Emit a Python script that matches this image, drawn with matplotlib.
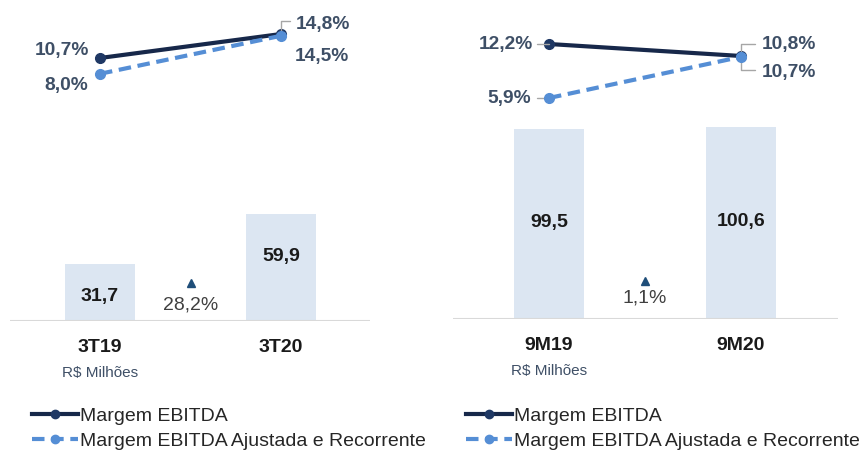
import matplotlib
matplotlib.use("Agg")
import matplotlib.pyplot as plt
from matplotlib.lines import Line2D

plt.rcParams['font.family'] = ['Liberation Sans', 'DejaVu Sans']

# dados
cats_tri = ['3T19', '3T20']
ebitda_tri = [31.7, 59.9]
margem_tri = [10.7, 14.8]
margem_aj_tri = [8.0, 14.5]
cresc_tri = 28.2

cats_9m = ['9M19', '9M20']
ebitda_9m = [99.5, 100.6]
margem_9m = [12.2, 10.8]
margem_aj_9m = [5.9, 10.7]
cresc_9m = 1.1

W, H = 866, 452
BAR = '#dce6f2'
NAVY = '#17284a'
LBLUE = '#558ed5'
TXT = '#3e4f66'
GRAY = '#a6a6a6'


def fmt(v, pct=True):
    s = f"{v:.1f}".replace('.', ',')
    return s + '%' if pct else s


def panel(fig, l, r, base, top, c0, c1, bar_px, y0, pct_px, cats, bars, m1, m2, cresc,
          lab_px, cres_px):
    ax = fig.add_axes([l / W, (H - base) / H, (r - l) / W, (base - top) / H])
    unit = c1 - c0
    xlo, xhi = -(c0 - l) / unit, 1 + (r - c1) / unit
    ax.set_xlim(xlo, xhi)
    ax.set_ylim(0, (base - top) / bar_px)
    xs = [0, 1]
    ax.bar(xs, bars, width=70 / unit, color=BAR, zorder=1)
    ax.axhline(0, color='#d9d9d9', lw=1.5, zorder=2)
    for x, v, lp in zip(xs, bars, lab_px):
        ax.text(x, lp / bar_px, fmt(v, False), ha='center', va='center',
                fontsize=14, fontweight='bold', color='#1a1a1a')
    for x, c in zip(xs, cats):
        ax.text(x, -26 / bar_px, c, ha='center', va='center', fontsize=14,
                fontweight='bold', color='#1a1a1a')
    ax.text(0, -51 / bar_px, 'R$ Milhões', ha='center', va='center',
            fontsize=11, color=TXT)
    # crescimento
    ax.plot([0.5], [cres_px[0] / bar_px], marker='^', ms=6, color='#1f4e79', ls='none')
    ax.text(0.5, cres_px[1] / bar_px, fmt(cresc), ha='center', va='center',
            fontsize=14, color='#404040')
    ax.axis('off')

    ax2 = ax.twinx()
    ax2.set_xlim(xlo, xhi)
    v0 = m1[0]
    ax2.set_ylim(v0 - (base - y0) / pct_px, v0 + (y0 - top) / pct_px)
    ax2.plot(xs, m1, color=NAVY, lw=3, marker='o', ms=7, mfc='#1f3864', mec='#1f3864', zorder=3)
    ax2.plot(xs, m2, color=LBLUE, lw=3, ls=(0, (3, 1.6)), marker='o', ms=7,
             mfc=LBLUE, mec=LBLUE, zorder=4)
    ax2.axis('off')
    return ax, ax2


def leader(ax, x, v, dx, dy):
    ax.annotate('', xy=(x, v), xytext=(dx, dy), textcoords='offset pixels',
                arrowprops=dict(arrowstyle='-', color=GRAY, lw=1, shrinkA=0, shrinkB=0,
                                connectionstyle='angle,angleA=0,angleB=90,rad=0'))


def label(ax, x, v, dx, dy, ha):
    ax.annotate(fmt(v), xy=(x, v), xytext=(dx, dy), textcoords='offset pixels',
                ha=ha, va='center', fontsize=13.8, fontweight='bold', color=TXT)


fig = plt.figure(figsize=(W / 100, H / 100), dpi=100)

# painel trimestral
a, a2 = panel(fig, 10, 370, 322, 10, 100, 281, 1.79, 59, 5.85,
              cats_tri, ebitda_tri, margem_tri, margem_aj_tri, cresc_tri,
              (25, 65), (38, 17))
label(a2, 0, margem_tri[0], -38, 8, 'center')
label(a2, 0, margem_aj_tri[0], -34, -11, 'center')
leader(a2, 1, margem_tri[1], 9, 13)
label(a2, 1, margem_tri[1], 15, 11, 'left')
label(a2, 1, margem_aj_tri[1], 14, -20, 'left')

# painel acumulado
b, b2 = panel(fig, 453, 838, 320, 10, 549, 741, 1.91, 45, 8.57,
              cats_9m, ebitda_9m, margem_9m, margem_aj_9m, cresc_9m,
              (97, 98), (38, 22))
leader(b2, 0, margem_9m[0], -12, 0)
label(b2, 0, margem_9m[0], -16, 0, 'right')
leader(b2, 0, margem_aj_9m[0], -12, 0)
label(b2, 0, margem_aj_9m[0], -18, 0, 'right')
leader(b2, 1, margem_9m[1], 14, 12)
label(b2, 1, margem_9m[1], 21, 12, 'left')
leader(b2, 1, margem_aj_9m[1], 14, -13)
label(b2, 1, margem_aj_9m[1], 21, -15, 'left')

# legendas
handles = [
    Line2D([], [], color=NAVY, lw=3, marker='o', ms=6, mfc='#1f3864', mec='#1f3864'),
    Line2D([], [], color=LBLUE, lw=3, ls=(0, (3, 1.6)), marker='o', ms=6, mfc=LBLUE, mec=LBLUE),
]
names = ['Margem EBITDA', 'Margem EBITDA Ajustada e Recorrente']
for x0 in (22, 456):
    fig.legend(handles, names, loc='upper left', bbox_to_anchor=(x0 / W, 1 - 398 / H),
               frameon=False, fontsize=14, handlelength=2.4, handletextpad=0.1,
               labelspacing=0.38, borderpad=0, labelcolor='#262626')

fig.savefig('out.png', dpi=100)
